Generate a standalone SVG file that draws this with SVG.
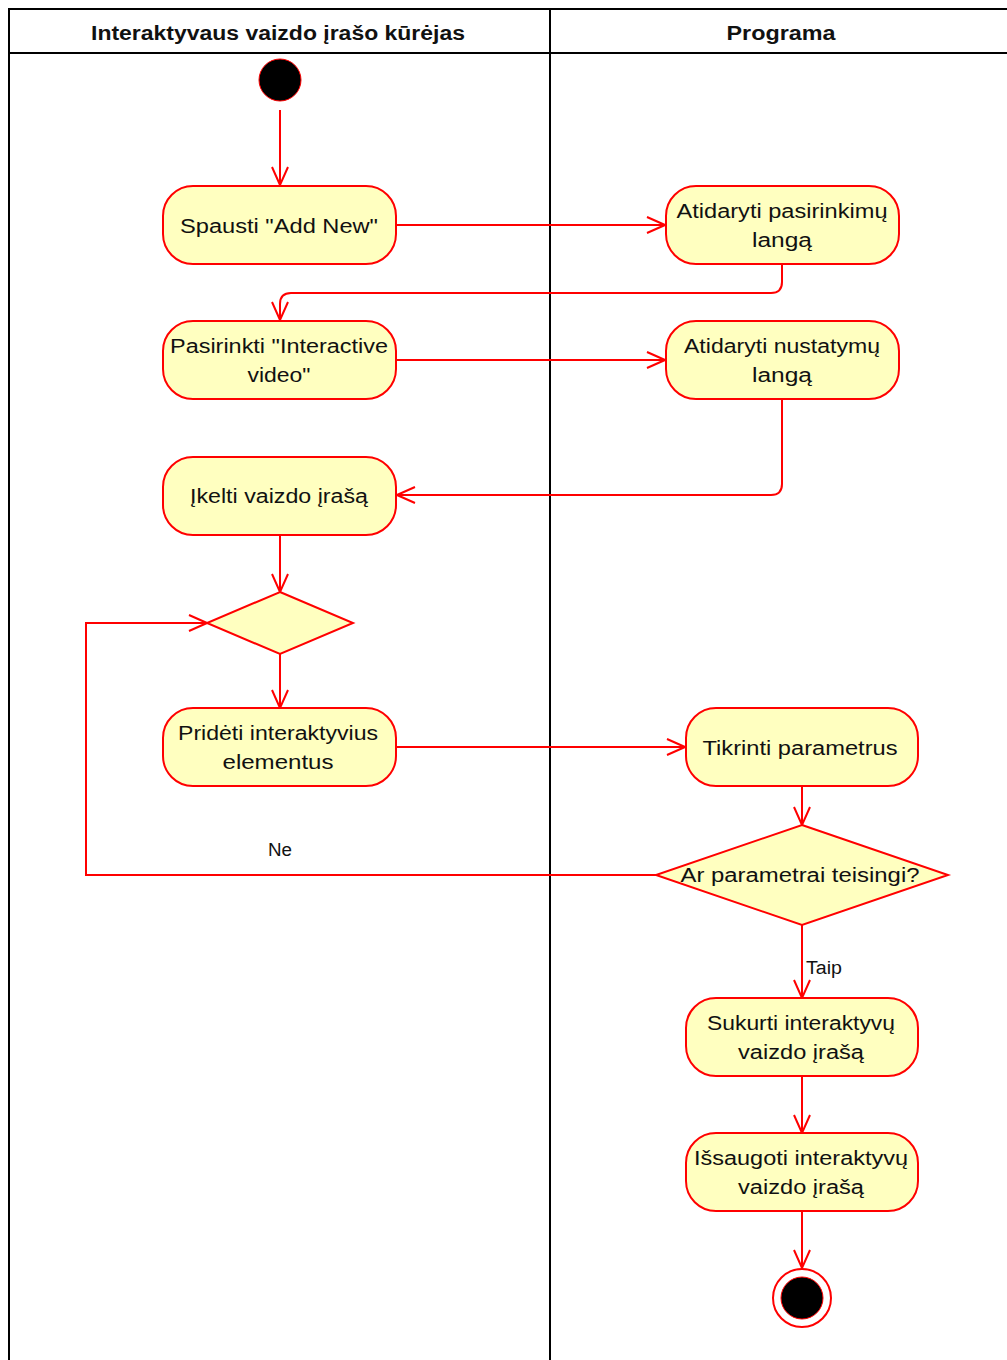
<svg xmlns="http://www.w3.org/2000/svg" width="1007" height="1360" viewBox="0 0 1007 1360">
<style>
.lane{fill:none;stroke:#000;stroke-width:2}
.act{fill:#ffffc0;stroke:#ff0000;stroke-width:2}
.dec{fill:#ffffc0;stroke:#ff0000;stroke-width:2}
.edge{fill:none;stroke:#ff0000;stroke-width:2}
text{font-family:"Liberation Sans",Arial,sans-serif;fill:#111}
.t{font-size:20px;text-anchor:middle}
.h{font-size:20px;font-weight:bold;text-anchor:middle}
.l{font-size:18px}
</style>
<defs>
<marker id="arr" viewBox="0 0 20 20" refX="19" refY="10" markerWidth="20" markerHeight="20" markerUnits="userSpaceOnUse" orient="auto">
<path d="M1,2 L19,10 L1,18" fill="none" stroke="#ff0000" stroke-width="2"/>
</marker>
</defs>
<rect width="1007" height="1360" fill="#fff"/>
<g id="lanes">
<path class="lane" d="M1010,9 H9 V1365 M9,53 H1010 M550,9 V1365"/>
<text class="h" x="278" y="40" textLength="374" lengthAdjust="spacingAndGlyphs">Interaktyvaus vaizdo įrašo kūrėjas</text>
<text class="h" x="781" y="40" textLength="109" lengthAdjust="spacingAndGlyphs">Programa</text>
</g>
<g id="connectors">
<path class="edge" marker-end="url(#arr)" d="M280,110 V185"/>
<path class="edge" marker-end="url(#arr)" d="M396,225 H665"/>
<path class="edge" marker-end="url(#arr)" d="M782,264 V282 Q782,293 771,293 H291 Q280,293 280,304 V320"/>
<path class="edge" marker-end="url(#arr)" d="M396,360 H665"/>
<path class="edge" marker-end="url(#arr)" d="M782,399 V484 Q782,495 771,495 H397"/>
<path class="edge" marker-end="url(#arr)" d="M280,535 V592"/>
<path class="edge" marker-end="url(#arr)" d="M280,654 V708"/>
<path class="edge" marker-end="url(#arr)" d="M396,747 H685"/>
<path class="edge" marker-end="url(#arr)" d="M802,786 V825"/>
<path class="edge" marker-end="url(#arr)" d="M656,875 H86 V623 H207"/>
<path class="edge" marker-end="url(#arr)" d="M802,925 V998"/>
<path class="edge" marker-end="url(#arr)" d="M802,1076 V1133"/>
<path class="edge" marker-end="url(#arr)" d="M802,1211 V1268"/>
<text class="l" x="268" y="856" textLength="24" lengthAdjust="spacingAndGlyphs">Ne</text>
<text class="l" x="806" y="974" textLength="36" lengthAdjust="spacingAndGlyphs">Taip</text>
</g>
<g id="start"><circle cx="280" cy="80" r="21" fill="#000" stroke="#ff0000" stroke-width="1"/></g>
<g id="n1"><rect class="act" x="163" y="186" width="233" height="78" rx="30"/><text class="t" x="279" y="233" textLength="198" lengthAdjust="spacingAndGlyphs">Spausti "Add New"</text></g>
<g id="n2"><rect class="act" x="666" y="186" width="233" height="78" rx="30"/><text class="t" x="782" y="218" textLength="211" lengthAdjust="spacingAndGlyphs">Atidaryti pasirinkimų</text><text class="t" x="782" y="247" textLength="60" lengthAdjust="spacingAndGlyphs">langą</text></g>
<g id="n3"><rect class="act" x="163" y="321" width="233" height="78" rx="30"/><text class="t" x="279" y="353" textLength="218" lengthAdjust="spacingAndGlyphs">Pasirinkti "Interactive</text><text class="t" x="279" y="382" textLength="63" lengthAdjust="spacingAndGlyphs">video"</text></g>
<g id="n4"><rect class="act" x="666" y="321" width="233" height="78" rx="30"/><text class="t" x="782" y="353" textLength="196" lengthAdjust="spacingAndGlyphs">Atidaryti nustatymų</text><text class="t" x="782" y="382" textLength="60" lengthAdjust="spacingAndGlyphs">langą</text></g>
<g id="n5"><rect class="act" x="163" y="457" width="233" height="78" rx="30"/><text class="t" x="279" y="503" textLength="178" lengthAdjust="spacingAndGlyphs">Įkelti vaizdo įrašą</text></g>
<g id="d1"><polygon class="dec" points="280,592 353,623 280,654 207,623"/></g>
<g id="n6"><rect class="act" x="163" y="708" width="233" height="78" rx="30"/><text class="t" x="278" y="740" textLength="200" lengthAdjust="spacingAndGlyphs">Pridėti interaktyvius</text><text class="t" x="278" y="769" textLength="111" lengthAdjust="spacingAndGlyphs">elementus</text></g>
<g id="n7"><rect class="act" x="686" y="708" width="232" height="78" rx="30"/><text class="t" x="800" y="755" textLength="195" lengthAdjust="spacingAndGlyphs">Tikrinti parametrus</text></g>
<g id="d2"><polygon class="dec" points="802,825 948,875 802,925 656,875"/><text class="t" x="800" y="882" textLength="239" lengthAdjust="spacingAndGlyphs">Ar parametrai teisingi?</text></g>
<g id="n8"><rect class="act" x="686" y="998" width="232" height="78" rx="30"/><text class="t" x="801" y="1030" textLength="188" lengthAdjust="spacingAndGlyphs">Sukurti interaktyvų</text><text class="t" x="801" y="1059" textLength="126" lengthAdjust="spacingAndGlyphs">vaizdo įrašą</text></g>
<g id="n9"><rect class="act" x="686" y="1133" width="232" height="78" rx="30"/><text class="t" x="801" y="1165" textLength="214" lengthAdjust="spacingAndGlyphs">Išsaugoti interaktyvų</text><text class="t" x="801" y="1194" textLength="126" lengthAdjust="spacingAndGlyphs">vaizdo įrašą</text></g>
<g id="end"><circle cx="802" cy="1298" r="29" fill="#fff" stroke="#ff0000" stroke-width="2"/><circle cx="802" cy="1298" r="21" fill="#000" stroke="#ff0000" stroke-width="1"/></g>
</svg>
